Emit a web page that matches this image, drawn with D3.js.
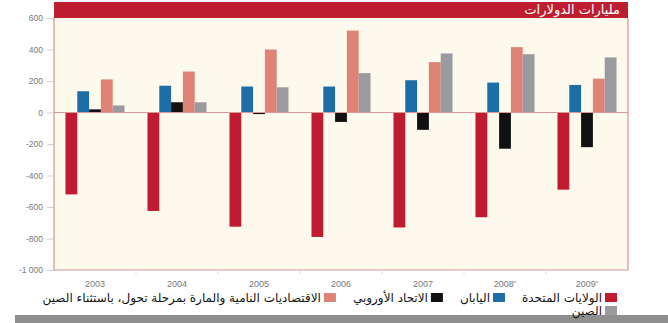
<!DOCTYPE html>
<html>
<head>
<meta charset="utf-8">
<script src="https://cdn.jsdelivr.net/npm/d3@7"></script>
<style>
  body { margin: 0; background: #fff; }
  svg { display: block; }
  text { font-family: "DejaVu Sans", sans-serif; }
</style>
</head>
<body>
<div id="chart"></div>
<script>
// Years on the x axis (the last two carry a star)
const years = ["2003", "2004", "2005", "2006", "2007", "2008", "2009"]
const starred = ["2008", "2009"]

// Series, in the order the bars are drawn inside each year
const seriesNames = [
  "الولايات المتحدة",
  "اليابان",
  "الاتحاد الأوروبي",
  "الاقتصاديات النامية والمارة بمرحلة تحول، باستثناء الصين",
  "الصين"
]
const seriesColors = ["#c01b30", "#1d6ea6", "#111111", "#df8377", "#9b9b9f"]

// Billions of dollars
const usa = [-520, -625, -725, -790, -730, -665, -490]
const japan = [135, 170, 165, 165, 205, 190, 175]
const eu = [20, 65, -10, -60, -110, -230, -220]
const developing = [210, 260, 400, 520, 320, 415, 215]
const china = [45, 65, 160, 250, 375, 370, 350]

const yTicks = [600, 400, 200, 0, -200, -400, -600, -800, -1000]
const title = "مليارات الدولارات"

const seriesValues = [usa, japan, eu, developing, china]

const width = 668, height = 323
const plot = {left: 54, right: 628, top: 18, bottom: 270}

const svg = d3.select("#chart").append("svg")
  .attr("width", width)
  .attr("height", height)

// Scales
const x0 = d3.scaleBand()
  .domain(years)
  .range([plot.left, plot.right])
  .paddingInner(0.28)
  .paddingOuter(0.14)

const x1 = d3.scaleBand()
  .domain(d3.range(seriesNames.length))
  .range([0, x0.bandwidth()])

const y = d3.scaleLinear()
  .domain([-1000, 600])
  .range([plot.bottom, plot.top])

// Plot background
svg.append("rect")
  .attr("x", plot.left)
  .attr("y", plot.top)
  .attr("width", plot.right - plot.left)
  .attr("height", plot.bottom - plot.top)
  .attr("fill", "#fdf9ec")

// Red header band with the unit
svg.append("rect")
  .attr("x", plot.left)
  .attr("y", 2)
  .attr("width", plot.right - plot.left)
  .attr("height", plot.top - 2)
  .attr("fill", "#be1e2f")

svg.append("text")
  .attr("x", plot.right - 8)
  .attr("y", 14)
  .attr("text-anchor", "end")
  .attr("font-size", 13)
  .attr("fill", "#fff")
  .text(title)

// Y axis
const loc = d3.formatLocale({decimal: ".", thousands: " ", grouping: [3], currency: ["", ""], minus: "-"})
const fmt = loc.format(",d")

const yAxis = svg.append("g")
  .attr("transform", "translate(" + plot.left + ",0)")
  .call(d3.axisLeft(y).tickValues(yTicks).tickSize(7).tickPadding(4).tickFormat(fmt))
yAxis.select(".domain").remove()
yAxis.selectAll(".tick line").attr("stroke", "#cfcfcf")
yAxis.selectAll(".tick text")
  .attr("fill", "#777")
  .attr("font-size", 8.5)
  .style("font-family", "'Liberation Sans', Arial, sans-serif")

// Bars
const groups = svg.append("g")
  .selectAll("g")
  .data(years)
  .join("g")
  .attr("transform", d => "translate(" + x0(d) + ",0)")

groups.selectAll("rect")
  .data((d, i) => seriesValues.map((vals, s) => ({s: s, v: vals[i]})))
  .join("rect")
  .attr("x", d => x1(d.s))
  .attr("width", x1.bandwidth())
  .attr("y", d => y(Math.max(0, d.v)))
  .attr("height", d => Math.max(1, Math.abs(y(d.v) - y(0))))
  .attr("fill", d => seriesColors[d.s])

// Zero line and frame
svg.append("line")
  .attr("x1", plot.left).attr("x2", plot.right)
  .attr("y1", y(0)).attr("y2", y(0))
  .attr("stroke", "#d79a9a").attr("stroke-width", 1)

svg.append("path")
  .attr("d", "M" + plot.left + "," + plot.top + "V" + plot.bottom + "H" + plot.right + "V" + plot.top)
  .attr("fill", "none")
  .attr("stroke", "#d49595")
  .attr("stroke-width", 1.2)

// X axis
const xAxis = svg.append("g")
  .attr("transform", "translate(0," + plot.bottom + ")")
  .call(d3.axisBottom(x0).tickSize(0).tickPadding(11).tickFormat(d => d))
xAxis.select(".domain").remove()
xAxis.selectAll(".tick text")
  .attr("fill", "#777")
  .attr("font-size", 9)
  .style("font-family", "'Liberation Sans', Arial, sans-serif")
  .filter(d => starred.includes(d))
  .append("tspan")
  .attr("dy", -2)
  .attr("font-size", 6)
  .text("*")

// little separators between years under the frame
svg.append("g").selectAll("line")
  .data(years.slice(1))
  .join("line")
  .attr("x1", d => x0(d) - x0.step() * x0.paddingInner() / 2)
  .attr("x2", d => x0(d) - x0.step() * x0.paddingInner() / 2)
  .attr("y1", plot.bottom).attr("y2", plot.bottom + 4)
  .attr("stroke", "#dddddd")

// Grey strip along the bottom
svg.append("rect")
  .attr("x", 15).attr("y", 315)
  .attr("width", width - 15).attr("height", height - 315)
  .attr("fill", "#8e8e8e")

// Legend, right to left
const legend = svg.append("g")
let cursor = 617
const rowY = [298, 311]
seriesNames.forEach((name, i) => {
  const row = i < 4 ? 0 : 1
  if (row === 1 && i === 4) cursor = 617
  const g = legend.append("g")
  g.append("rect")
    .attr("x", cursor - 12)
    .attr("y", rowY[row] - 5)
    .attr("width", 12)
    .attr("height", 9)
    .attr("fill", seriesColors[i])
  const t = g.append("text")
    .attr("x", cursor - 15)
    .attr("y", rowY[row] + 4)
    .attr("text-anchor", "end")
    .attr("font-size", 12)
    .attr("fill", "#111")
    .text(name)
  cursor = cursor - 15 - t.node().getComputedTextLength() - 17
})
</script>
</body>
</html>
